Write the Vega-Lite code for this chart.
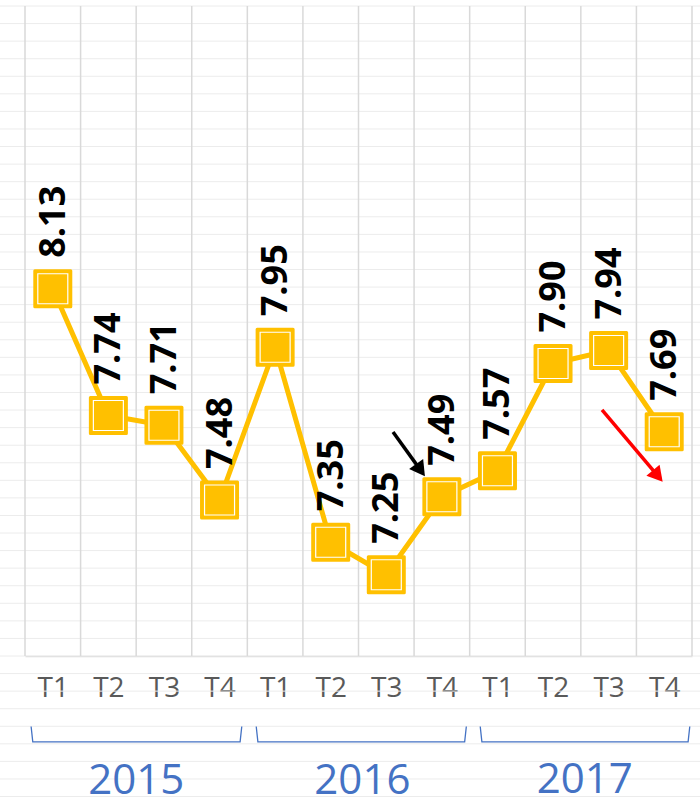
{
  "$schema": "https://vega.github.io/schema/vega-lite/v6.json",
  "width": 667,
  "height": 650,
  "autosize": {"type": "none"},
  "padding": {"left": 25, "top": 6, "right": 8, "bottom": 149},
  "background": "white",
  "config": {
    "view": {"stroke": null},
    "axisX": {
      "labelFontSize": 28,
      "labelFont": "Open Sans",
      "labelColor": "#595959",
      "labelPadding": 18,
      "ticks": false,
      "grid": false,
      "domain": true,
      "domainColor": "#d9d9d9",
      "domainWidth": 1.5,
      "labelFlush": false,
      "labelOverlap": false
    }
  },
  "datasets": {
    "series": [
      {"i": 0.5, "year": "2015", "q": "T1", "v": 8.13},
      {"i": 1.5, "year": "2015", "q": "T2", "v": 7.74},
      {"i": 2.5, "year": "2015", "q": "T3", "v": 7.71},
      {"i": 3.5, "year": "2015", "q": "T4", "v": 7.48},
      {"i": 4.5, "year": "2016", "q": "T1", "v": 7.95},
      {"i": 5.5, "year": "2016", "q": "T2", "v": 7.35},
      {"i": 6.5, "year": "2016", "q": "T3", "v": 7.25},
      {"i": 7.5, "year": "2016", "q": "T4", "v": 7.49},
      {"i": 8.5, "year": "2017", "q": "T1", "v": 7.57},
      {"i": 9.5, "year": "2017", "q": "T2", "v": 7.90},
      {"i": 10.5, "year": "2017", "q": "T3", "v": 7.94},
      {"i": 11.5, "year": "2017", "q": "T4", "v": 7.69}
    ],
    "vgrid": [
      {"x": 0}, {"x": 1}, {"x": 2}, {"x": 3}, {"x": 4}, {"x": 5}, {"x": 6},
      {"x": 7}, {"x": 8}, {"x": 9}, {"x": 10}, {"x": 11}, {"x": 12}
    ],
    "hgrid": [
      {"y": 9}, {"y": 8.9459}, {"y": 8.8919}, {"y": 8.8378}, {"y": 8.7838}, {"y": 8.7297},
      {"y": 8.6757}, {"y": 8.6216}, {"y": 8.5676}, {"y": 8.5135}, {"y": 8.4595}, {"y": 8.4054},
      {"y": 8.3514}, {"y": 8.2973}, {"y": 8.2432}, {"y": 8.1892}, {"y": 8.1351}, {"y": 8.0811},
      {"y": 8.0270}, {"y": 7.9730}, {"y": 7.9189}, {"y": 7.8649}, {"y": 7.8108}, {"y": 7.7568},
      {"y": 7.7027}, {"y": 7.6486}, {"y": 7.5946}, {"y": 7.5405}, {"y": 7.4865}, {"y": 7.4324},
      {"y": 7.3784}, {"y": 7.3243}, {"y": 7.2703}, {"y": 7.2162}, {"y": 7.1622}, {"y": 7.1081},
      {"y": 7.0541}, {"y": 7.0}, {"y": 6.9459}, {"y": 6.8919}, {"y": 6.8378}, {"y": 6.7838},
      {"y": 6.7297}, {"y": 6.6757}, {"y": 6.6216}, {"y": 6.5676}
    ],
    "brackets": [
      {"year": "2015", "o": 0, "x": 0.11, "y": 6.783},
      {"year": "2015", "o": 1, "x": 0.14, "y": 6.736},
      {"year": "2015", "o": 2, "x": 3.87, "y": 6.736},
      {"year": "2015", "o": 3, "x": 3.90, "y": 6.783},
      {"year": "2016", "o": 0, "x": 4.16, "y": 6.783},
      {"year": "2016", "o": 1, "x": 4.19, "y": 6.736},
      {"year": "2016", "o": 2, "x": 7.91, "y": 6.736},
      {"year": "2016", "o": 3, "x": 7.94, "y": 6.783},
      {"year": "2017", "o": 0, "x": 8.19, "y": 6.783},
      {"year": "2017", "o": 1, "x": 8.22, "y": 6.736},
      {"year": "2017", "o": 2, "x": 11.93, "y": 6.736},
      {"year": "2017", "o": 3, "x": 11.96, "y": 6.783}
    ],
    "years": [
      {"x": 2.0, "y": 6.575, "t": "2015"},
      {"x": 6.07, "y": 6.575, "t": "2016"},
      {"x": 10.07, "y": 6.58, "t": "2017"}
    ],
    "arrows": [
      {"kind": "black", "x": 6.621, "y": 7.689, "x2": 7.116, "y2": 7.572, "a": 144.2},
      {"kind": "red", "x": 10.381, "y": 7.757, "x2": 11.385, "y2": 7.554, "a": 139.8}
    ]
  },
  "layer": [
    {
      "data": {"name": "hgrid"},
      "mark": {"type": "rule", "color": "#ececec", "strokeWidth": 1},
      "encoding": {
        "x": {"datum": -0.45, "type": "quantitative", "scale": {"domain": [0, 12], "nice": false, "zero": false}, "axis": {"title": null}},
        "x2": {"datum": 12.15},
        "y": {"field": "y", "type": "quantitative", "scale": {"domain": [7, 9], "nice": false, "zero": false}, "axis": null}
      }
    },
    {
      "data": {"name": "vgrid"},
      "mark": {"type": "rule", "color": "#d9d9d9", "strokeWidth": 1.5},
      "encoding": {
        "x": {"field": "x", "type": "quantitative", "scale": {"domain": [0, 12], "nice": false, "zero": false}, "axis": {"title": null}},
        "y": {"datum": 7, "type": "quantitative", "scale": {"domain": [7, 9], "nice": false, "zero": false}, "axis": null},
        "y2": {"datum": 9}
      }
    },
    {
      "data": {"name": "brackets"},
      "mark": {"type": "line", "color": "#4472C4", "strokeWidth": 1.3, "interpolate": "linear"},
      "encoding": {
        "x": {"field": "x", "type": "quantitative", "scale": {"domain": [0, 12], "nice": false, "zero": false}, "axis": {"title": null}},
        "y": {"field": "y", "type": "quantitative", "scale": {"domain": [7, 9], "nice": false, "zero": false}, "axis": null},
        "detail": {"field": "year"},
        "order": {"field": "o"}
      }
    },
    {
      "data": {"name": "years"},
      "mark": {"type": "text", "color": "#4472C4", "fontSize": 42, "font": "Open Sans", "baseline": "alphabetic", "align": "center"},
      "encoding": {
        "x": {"field": "x", "type": "quantitative", "scale": {"domain": [0, 12], "nice": false, "zero": false}, "axis": {"title": null}},
        "y": {"field": "y", "type": "quantitative", "scale": {"domain": [7, 9], "nice": false, "zero": false}, "axis": null},
        "text": {"field": "t"}
      }
    },
    {
      "data": {"name": "series"},
      "mark": {"type": "line", "color": "#FFC000", "strokeWidth": 5},
      "encoding": {
        "x": {
          "field": "i", "type": "quantitative",
          "scale": {"domain": [0, 12], "nice": false, "zero": false},
          "axis": {
            "title": null,
            "values": [0.5, 1.5, 2.5, 3.5, 4.5, 5.5, 6.5, 7.5, 8.5, 9.5, 10.5, 11.5],
            "labelExpr": "'T' + (floor(datum.value) % 4 + 1)"
          }
        },
        "y": {"field": "v", "type": "quantitative", "scale": {"domain": [7, 9], "nice": false, "zero": false}, "axis": null}
      }
    },
    {
      "data": {"name": "series"},
      "mark": {"type": "point", "shape": "square", "filled": true, "size": 1296, "color": "#FFC000", "stroke": "#FFC000", "strokeWidth": 3, "strokeJoin": "round", "opacity": 1},
      "encoding": {
        "x": {"field": "i", "type": "quantitative", "scale": {"domain": [0, 12], "nice": false, "zero": false}, "axis": {"title": null}},
        "y": {"field": "v", "type": "quantitative", "scale": {"domain": [7, 9], "nice": false, "zero": false}, "axis": null}
      }
    },
    {
      "data": {"name": "series"},
      "mark": {"type": "point", "shape": "square", "filled": true, "size": 900, "fill": "#FFC000", "stroke": "white", "strokeWidth": 1.2, "opacity": 1},
      "encoding": {
        "x": {"field": "i", "type": "quantitative", "scale": {"domain": [0, 12], "nice": false, "zero": false}, "axis": {"title": null}},
        "y": {"field": "v", "type": "quantitative", "scale": {"domain": [7, 9], "nice": false, "zero": false}, "axis": null}
      }
    },
    {
      "data": {"name": "series"},
      "mark": {"type": "text", "angle": 270, "align": "left", "baseline": "middle", "dx": 31, "dy": 1, "fontSize": 36, "fontWeight": "bold", "font": "Open Sans", "color": "black"},
      "encoding": {
        "x": {"field": "i", "type": "quantitative", "scale": {"domain": [0, 12], "nice": false, "zero": false}, "axis": {"title": null}},
        "y": {"field": "v", "type": "quantitative", "scale": {"domain": [7, 9], "nice": false, "zero": false}, "axis": null},
        "text": {"field": "v", "type": "quantitative", "format": ".2f"}
      }
    },
    {
      "data": {"name": "arrows"},
      "mark": {"type": "rule", "strokeWidth": 3.5},
      "encoding": {
        "x": {"field": "x", "type": "quantitative", "scale": {"domain": [0, 12], "nice": false, "zero": false}, "axis": {"title": null}},
        "y": {"field": "y", "type": "quantitative", "scale": {"domain": [7, 9], "nice": false, "zero": false}, "axis": null},
        "x2": {"field": "x2"},
        "y2": {"field": "y2"},
        "color": {"field": "kind", "type": "nominal", "scale": {"domain": ["black", "red"], "range": ["#000000", "#FF0000"]}, "legend": null}
      }
    },
    {
      "data": {"name": "arrows"},
      "mark": {"type": "point", "shape": "triangle-up", "filled": true, "size": 300, "opacity": 1},
      "encoding": {
        "x": {"field": "x2", "type": "quantitative", "scale": {"domain": [0, 12], "nice": false, "zero": false}, "axis": {"title": null}},
        "y": {"field": "y2", "type": "quantitative", "scale": {"domain": [7, 9], "nice": false, "zero": false}, "axis": null},
        "angle": {"field": "a", "type": "quantitative", "scale": null},
        "color": {"field": "kind", "type": "nominal", "scale": {"domain": ["black", "red"], "range": ["#000000", "#FF0000"]}, "legend": null}
      }
    }
  ]
}
